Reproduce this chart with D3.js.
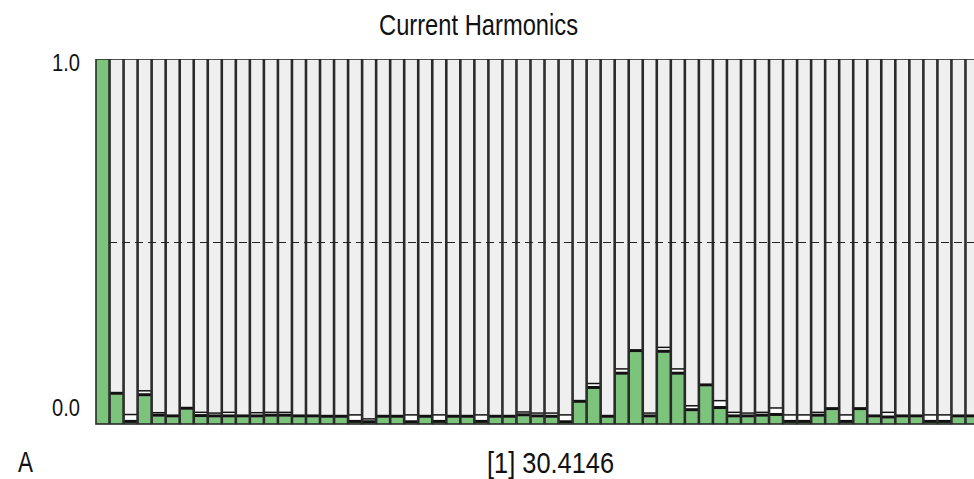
<!DOCTYPE html>
<html>
<head>
<meta charset="utf-8">
<script src="https://cdn.jsdelivr.net/npm/d3@7"></script>
<style>
  html, body { margin: 0; padding: 0; background: #fff; overflow: hidden; }
  svg { display: block; }
  text { font-family: "Liberation Sans Narrow", "Liberation Sans", Arial, sans-serif; fill: #111; }
</style>
</head>
<body>
<div id="chart"></div>
<script>
// ── DATA ──────────────────────────────────────────────────────
const harmonics = [
   1,  2,  3,  4,  5,  6,  7,  8,  9, 10, 11, 12, 13, 14, 15, 16,
  17, 18, 19, 20, 21, 22, 23, 24, 25, 26, 27, 28, 29, 30, 31, 32,
  33, 34, 35, 36, 37, 38, 39, 40, 41, 42, 43, 44, 45, 46, 47, 48,
  49, 50, 51, 52, 53, 54, 55, 56, 57, 58, 59, 60, 61, 62, 63
];

// current value, relative to the fundamental
const currentValues = [
  1.000, 0.080, 0.003, 0.076, 0.020, 0.018, 0.039, 0.019, 0.018, 0.018, 0.018, 0.018, 0.020, 0.020, 0.018, 0.018,
  0.017, 0.017, 0.003, 0.002, 0.017, 0.017, 0.002, 0.017, 0.003, 0.017, 0.017, 0.003, 0.017, 0.017, 0.021, 0.018,
  0.017, 0.002, 0.058, 0.096, 0.017, 0.135, 0.197, 0.018, 0.195, 0.135, 0.035, 0.103, 0.041, 0.018, 0.018, 0.020,
  0.022, 0.003, 0.003, 0.020, 0.038, 0.003, 0.038, 0.018, 0.015, 0.018, 0.018, 0.003, 0.003, 0.018, 0.018
];

// peak hold value, relative to the fundamental
const peakValues = [
  1.000, 0.080, 0.028, 0.093, 0.033, 0.018, 0.039, 0.034, 0.032, 0.034, 0.018, 0.033, 0.034, 0.034, 0.018, 0.018,
  0.017, 0.017, 0.027, 0.016, 0.017, 0.017, 0.027, 0.017, 0.027, 0.017, 0.017, 0.027, 0.017, 0.017, 0.035, 0.032,
  0.032, 0.027, 0.058, 0.113, 0.017, 0.153, 0.197, 0.032, 0.212, 0.153, 0.052, 0.103, 0.066, 0.034, 0.032, 0.034,
  0.046, 0.027, 0.027, 0.034, 0.038, 0.027, 0.038, 0.018, 0.034, 0.018, 0.018, 0.027, 0.027, 0.018, 0.018
];

const yTicks = [0, 1];
const refLine = 0.5;

const titleText = "Current Harmonics";
const unitText = "A";
const readoutText = "[1] 30.4146";

const data = harmonics.map((h, i) => ({ h, value: currentValues[i], peak: peakValues[i] }));

// ── LAYOUT ────────────────────────────────────────────────────
const width = 974;
const height = 479;
const plotLeft = 95;
const plotRight = 979;   // last column runs past the window edge
const plotTop = 59;
const plotBottom = 424;
const capH = 3;

const svg = d3.select("#chart")
  .append("svg")
    .attr("width", width)
    .attr("height", height);

svg.append("defs")
  .append("clipPath")
    .attr("id", "plot-clip")
  .append("rect")
    .attr("x", plotLeft)
    .attr("y", plotTop)
    .attr("width", plotRight - plotLeft)
    .attr("height", plotBottom - plotTop + 1);

// ── SCALES ────────────────────────────────────────────────────
const xScale = d3.scaleBand()
  .domain(harmonics)
  .range([plotLeft, plotRight])
  .padding(0);

const yScale = d3.scaleLinear()
  .domain([0, 1])
  .range([plotBottom, plotTop]);

const bw = xScale.bandwidth();

// ── TITLE ─────────────────────────────────────────────────────
svg.append("text")
  .attr("x", 379)
  .attr("y", 35)
  .attr("textLength", 199)
  .attr("lengthAdjust", "spacingAndGlyphs")
  .style("font-size", "29px")
  .text(titleText);

// ── COLUMNS ───────────────────────────────────────────────────
const plot = svg.append("g")
  .attr("clip-path", "url(#plot-clip)");

const cols = plot.selectAll(".col")
  .data(data)
  .join("g")
    .attr("class", "col");

// background slot
cols.append("rect")
  .attr("x", d => xScale(d.h) + 1)
  .attr("y", plotTop)
  .attr("width", bw - 1)
  .attr("height", plotBottom - plotTop)
  .attr("fill", "#efefef");

// dashed 0.5 reference
plot.append("line")
  .attr("x1", xScale(harmonics[1]))
  .attr("x2", plotRight)
  .attr("y1", Math.round(yScale(refLine)) + 0.5)
  .attr("y2", Math.round(yScale(refLine)) + 0.5)
  .attr("stroke", "#222")
  .attr("stroke-width", 1)
  .attr("stroke-dasharray", "8,5");

// peak hold box (white) with a thin black top line
const withPeak = cols.filter(d => d.peak > d.value + 0.004);

withPeak.append("rect")
  .attr("x", d => xScale(d.h) + 1)
  .attr("y", d => yScale(d.peak))
  .attr("width", bw - 1)
  .attr("height", d => yScale(d.value) - capH - yScale(d.peak))
  .attr("fill", "#ffffff");

withPeak.append("rect")
  .attr("x", d => xScale(d.h) + 1)
  .attr("y", d => yScale(d.peak))
  .attr("width", bw - 1)
  .attr("height", 1.5)
  .attr("fill", "#111");

// green bar
cols.append("rect")
  .attr("x", d => xScale(d.h) + 1)
  .attr("y", d => yScale(d.value))
  .attr("width", bw - 1)
  .attr("height", d => plotBottom - yScale(d.value))
  .attr("fill", "#7cc47c");

// black cap on top of each bar
cols.append("rect")
  .attr("x", d => xScale(d.h) + 1)
  .attr("y", d => yScale(d.value) - capH)
  .attr("width", bw - 1)
  .attr("height", capH)
  .attr("fill", "#111");

// slot borders
cols.append("rect")
  .attr("x", d => xScale(d.h) + 1)
  .attr("y", plotTop)
  .attr("width", bw - 1)
  .attr("height", plotBottom - plotTop)
  .attr("fill", "none")
  .attr("stroke", "#2a2a2a")
  .attr("stroke-width", 1.6);

// ── Y LABELS ──────────────────────────────────────────────────
svg.selectAll(".ylabel")
  .data(yTicks)
  .join("text")
    .attr("class", "ylabel")
    .attr("x", 52)
    .attr("y", d => d === 1 ? yScale(d) + 12 : yScale(d) - 8)
    .attr("textLength", 28)
    .attr("lengthAdjust", "spacingAndGlyphs")
    .style("font-size", "23px")
    .text(d => d3.format(".1f")(d));

// ── BOTTOM READOUT ────────────────────────────────────────────
svg.append("text")
  .attr("x", 18)
  .attr("y", 472)
  .attr("textLength", 15)
  .attr("lengthAdjust", "spacingAndGlyphs")
  .style("font-size", "30px")
  .text(unitText);

svg.append("text")
  .attr("x", 487)
  .attr("y", 473)
  .attr("textLength", 127)
  .attr("lengthAdjust", "spacingAndGlyphs")
  .style("font-size", "30px")
  .text(readoutText);
</script>
</body>
</html>
